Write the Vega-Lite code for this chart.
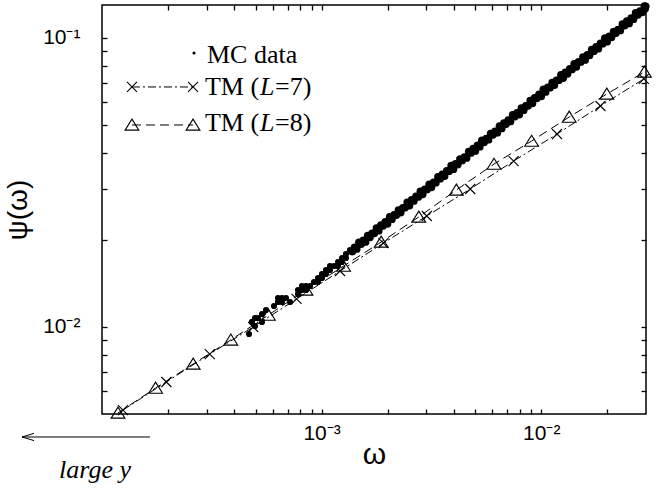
{
"$schema": "https://vega.github.io/schema/vega-lite/v6.json",
"width": 544, "height": 409,
"autosize": "none",
"padding": {"left": 102, "top": 5, "right": 12, "bottom": 75},
"background": "white",
"config": {
  "view": {"stroke": "black", "strokeWidth": 1.5},
  "axis": {"domain": false, "grid": false, "tickColor": "black", "tickWidth": 1.3, "labelFont": "Liberation Sans", "labelFontSize": 21, "labelColor": "black", "titleFont": "Liberation Sans", "titleColor": "black", "titleFontWeight": "normal", "labelOverlap": false, "labelFlush": false, "labelBound": false}
},
"datasets": {
  "mc": [
    {"w":0.0299,"p":0.1285},{"w":0.0297,"p":0.1262},
    {"w":0.02951,"p":0.1288},{"w":0.02818,"p":0.1239},{"w":0.02692,"p":0.1222},{"w":0.0257,"p":0.1172},{"w":0.02455,"p":0.1143},{"w":0.02344,"p":0.1117},{"w":0.02239,"p":0.1069},{"w":0.02138,"p":0.1052},{"w":0.02042,"p":0.1012},{"w":0.0195,"p":0.09977},
    {"w":0.01862,"p":0.09572},{"w":0.01778,"p":0.09311},{"w":0.01698,"p":0.0912},{"w":0.01622,"p":0.0873},{"w":0.01549,"p":0.0859},{"w":0.01479,"p":0.0826},{"w":0.01413,"p":0.08128},{"w":0.01349,"p":0.07816},{"w":0.01288,"p":0.07603},{"w":0.0123,"p":0.07447},
    {"w":0.01175,"p":0.07129},{"w":0.01122,"p":0.06998},{"w":0.01072,"p":0.06745},{"w":0.01023,"p":0.06637},{"w":0.009772,"p":0.06383},{"w":0.009333,"p":0.06209},{"w":0.008913,"p":0.06067},{"w":0.008511,"p":0.05821},{"w":0.008128,"p":0.05715},{"w":0.007762,"p":0.05508},
    {"w":0.007413,"p":0.0542},{"w":0.007079,"p":0.052},{"w":0.006761,"p":0.0507},{"w":0.006457,"p":0.04955},{"w":0.006166,"p":0.04753},{"w":0.005888,"p":0.04667},{"w":0.005623,"p":0.04487},{"w":0.00537,"p":0.04426},{"w":0.005129,"p":0.04246},{"w":0.004898,"p":0.0414},
    {"w":0.004677,"p":0.04046},{"w":0.004467,"p":0.03873},{"w":0.004266,"p":0.03811},{"w":0.004074,"p":0.03664},{"w":0.00389,"p":0.03614},{"w":0.003715,"p":0.03467},{"w":0.003548,"p":0.03373},{"w":0.003388,"p":0.03304},{"w":0.003236,"p":0.03162},{"w":0.00309,"p":0.03112},
    {"w":0.002951,"p":0.02992},{"w":0.002818,"p":0.02944},{"w":0.002692,"p":0.02831},{"w":0.00257,"p":0.02754},{"w":0.002455,"p":0.02698},{"w":0.002344,"p":0.02582},{"w":0.002239,"p":0.02535},{"w":0.002138,"p":0.02443},{"w":0.002042,"p":0.02404},{"w":0.00195,"p":0.02312},
    {"w":0.001862,"p":0.02249},{"w":0.001778,"p":0.02198},{"w":0.001698,"p":0.02109},{"w":0.001622,"p":0.0207},{"w":0.001549,"p":0.01995},{"w":0.001479,"p":0.01963},{"w":0.001413,"p":0.01884},
    {"w":0.02884,"p":0.1227},{"w":0.02754,"p":0.1202},{"w":0.0263,"p":0.1161},{"w":0.02512,"p":0.1122},{"w":0.02399,"p":0.1104},{"w":0.02291,"p":0.1062},{"w":0.02188,"p":0.104},{"w":0.02089,"p":0.1005},{"w":0.01995,"p":0.09705},{"w":0.01905,"p":0.0955},
    {"w":0.0182,"p":0.09183},{"w":0.01738,"p":0.08995},{"w":0.0166,"p":0.0871},{"w":0.01585,"p":0.08395},{"w":0.01514,"p":0.0826},{"w":0.01445,"p":0.07943},{"w":0.0138,"p":0.0778},{"w":0.01318,"p":0.07516},{"w":0.01259,"p":0.07261},{"w":0.01202,"p":0.07145},
    {"w":0.01148,"p":0.06871},{"w":0.01096,"p":0.0673},{"w":0.01047,"p":0.06501},{"w":0.01,"p":0.06281},{"w":0.00955,"p":0.0618},{"w":0.00912,"p":0.05943},{"w":0.00871,"p":0.05821},{"w":0.008318,"p":0.05623},{"w":0.007943,"p":0.05433},{"w":0.007586,"p":0.05346},
    {"w":0.007244,"p":0.0514},{"w":0.006918,"p":0.05035},{"w":0.006607,"p":0.04864},{"w":0.00631,"p":0.04699},{"w":0.006026,"p":0.04624},{"w":0.005754,"p":0.04446},{"w":0.005495,"p":0.04355},{"w":0.005248,"p":0.04207},{"w":0.005012,"p":0.04064},{"w":0.004786,"p":0.03999},
    {"w":0.004571,"p":0.03846},{"w":0.004365,"p":0.03767},{"w":0.004169,"p":0.03648},{"w":0.003981,"p":0.03516},{"w":0.003802,"p":0.03459},{"w":0.003631,"p":0.03327},{"w":0.003467,"p":0.03258},{"w":0.003311,"p":0.03155},{"w":0.003162,"p":0.03041},{"w":0.00302,"p":0.02992},
    {"w":0.002884,"p":0.02877},{"w":0.002754,"p":0.02818},{"w":0.00263,"p":0.02729},{"w":0.002512,"p":0.0263},{"w":0.002399,"p":0.02588},{"w":0.002291,"p":0.02489},{"w":0.002188,"p":0.02438},{"w":0.002089,"p":0.0236},{"w":0.001995,"p":0.02275},{"w":0.001905,"p":0.02239},
    {"w":0.00182,"p":0.02153},{"w":0.001738,"p":0.02109},{"w":0.00166,"p":0.02042},{"w":0.001585,"p":0.01968},{"w":0.001514,"p":0.01936},{"w":0.001445,"p":0.01862},{"w":0.00138,"p":0.01824}
  ],
  "mcs": [
    {"w":0.0004671,"p":0.009458},{"w":0.0004821,"p":0.01041},{"w":0.0004974,"p":0.01074},{"w":0.0004974,"p":0.01008},{"w":0.0005133,"p":0.01074},{"w":0.0005353,"p":0.01109},{"w":0.0005582,"p":0.01145},{"w":0.000607,"p":0.01182},{"w":0.000633,"p":0.0122},{"w":0.00066,"p":0.01259},
    {"w":0.000633,"p":0.01259},{"w":0.00066,"p":0.0122},{"w":0.000688,"p":0.01259},{"w":0.000781,"p":0.013},{"w":0.000814,"p":0.01343},{"w":0.000814,"p":0.01386},{"w":0.000849,"p":0.01343},{"w":0.000849,"p":0.01386},{"w":0.000886,"p":0.01386},{"w":0.000781,"p":0.01343},
    {"w":0.000923,"p":0.01431},{"w":0.000963,"p":0.01477},{"w":0.001004,"p":0.01525},{"w":0.001004,"p":0.01477},{"w":0.001047,"p":0.01575},{"w":0.001092,"p":0.01575},{"w":0.001047,"p":0.01525},{"w":0.001092,"p":0.01626},{"w":0.001139,"p":0.01626},{"w":0.001188,"p":0.01678},
    {"w":0.001239,"p":0.01732},{"w":0.001239,"p":0.01678},{"w":0.001291,"p":0.01788},{"w":0.001347,"p":0.01846},{"w":0.001291,"p":0.01732},{"w":0.001405,"p":0.01846},{"w":0.001188,"p":0.01626},{"w":0.000718,"p":0.0122},{"w":0.000963,"p":0.01431},{"w":0.0005353,"p":0.01041}
  ],
  "l8": [
    {"w":0.0001183,"p":0.00504},{"w":0.0001754,"p":0.00615},{"w":0.0002602,"p":0.007447},{"w":0.000386,"p":0.00902},{"w":0.0005724,"p":0.011},{"w":0.000849,"p":0.01343},{"w":0.001259,"p":0.01625},{"w":0.001868,"p":0.01968},
    {"w":0.002771,"p":0.02402},{"w":0.00411,"p":0.02979},{"w":0.006096,"p":0.03662},{"w":0.00904,"p":0.04399},{"w":0.01341,"p":0.05326},{"w":0.01989,"p":0.06398},{"w":0.0295,"p":0.07625}
  ],
  "l7": [
    {"w":0.0001246,"p":0.005161},{"w":0.0001964,"p":0.006452},{"w":0.0003096,"p":0.00806},{"w":0.0004881,"p":0.01},{"w":0.0007693,"p":0.0125},{"w":0.001213,"p":0.01562},{"w":0.001912,"p":0.01952},
    {"w":0.003013,"p":0.02421},{"w":0.00475,"p":0.03002},{"w":0.007487,"p":0.03751},{"w":0.0118,"p":0.04652},{"w":0.01861,"p":0.05815},{"w":0.02932,"p":0.07211}
  ],
  "mcl": [{"w":0.0002624,"p":0.08871}],
  "leg7": [{"w":0.0001369,"p":0.06766},{"w":0.0002597,"p":0.06766}],
  "leg8": [{"w":0.0001369,"p":0.04998},{"w":0.0002597,"p":0.04998}],
  "txt": [
    {"w":0.0003006,"p":0.0819,"t":"MC data"},
    {"w":0.0002944,"p":0.06348,"t":"TM ("},{"w":0.0006135,"p":0.06348,"t":"=7)"},
    {"w":0.0002944,"p":0.04765,"t":"TM ("},{"w":0.0006135,"p":0.04765,"t":"=8)"}
  ],
  "txti": [{"w":0.0005243,"p":0.06348,"t":"L"},{"w":0.0005243,"p":0.04765,"t":"L"}],
  "ann": [{"w":0.00009292,"p":0.003003,"t":"large y"}],
  "arr": [{"w":0.00004322,"p":0.004163},{"w":0.0001654,"p":0.004163}],
  "arrh": [{"w":0.00004603,"p":0.004163}]
},
"encoding": {
  "x": {"field": "w", "type": "quantitative", "scale": {"type": "log", "domain": [0.0001, 0.03], "nice": false}, "axis": null},
  "y": {"field": "p", "type": "quantitative", "scale": {"type": "log", "domain": [0.005, 0.13], "nice": false}, "axis": null}
},
"layer": [
  {
    "data": {"name": "mcl"},
    "mark": {"type": "point", "opacity": 0},
    "encoding": {
      "x": {"field": "w", "type": "quantitative", "scale": {"type": "log", "domain": [0.0001, 0.03], "nice": false},
        "axis": {"orient": "bottom", "values": [0.0002,0.0003,0.0004,0.0005,0.0006,0.0007,0.0008,0.0009,0.001,0.002,0.003,0.004,0.005,0.006,0.007,0.008,0.009,0.01,0.02],
          "tickSize": -5,
          "labelExpr": "datum.value == 0.001 ? '10⁻³' : datum.value == 0.01 ? '10⁻²' : ''",
          "labelPadding": 13, "title": "ω", "titleFontSize": 30, "titlePadding": -4}},
      "y": {"field": "p", "type": "quantitative", "scale": {"type": "log", "domain": [0.005, 0.13], "nice": false},
        "axis": {"orient": "left", "values": [0.006,0.007,0.008,0.009,0.01,0.02,0.03,0.04,0.05,0.06,0.07,0.08,0.09,0.1],
          "tickSize": -5,
          "labelExpr": "datum.value == 0.01 ? '10⁻²' : datum.value == 0.1 ? '10⁻¹' : ''",
          "labelPadding": 27, "title": "ψ(ω)", "titleFontSize": 28, "titlePadding": 10}}
    }
  },
  {
    "data": {"name": "mcl"},
    "mark": {"type": "point", "opacity": 0},
    "encoding": {
      "x": {"field": "w", "type": "quantitative", "scale": {"type": "log", "domain": [0.0001, 0.03], "nice": false},
        "axis": {"orient": "top", "values": [0.0002,0.0003,0.0004,0.0005,0.0006,0.0007,0.0008,0.0009,0.001,0.002,0.003,0.004,0.005,0.006,0.007,0.008,0.009,0.01,0.02],
          "labels": false, "title": null, "tickSize": -5}},
      "y": {"field": "p", "type": "quantitative", "scale": {"type": "log", "domain": [0.005, 0.13], "nice": false},
        "axis": {"orient": "right", "values": [0.006,0.007,0.008,0.009,0.01,0.02,0.03,0.04,0.05,0.06,0.07,0.08,0.09,0.1],
          "labels": false, "title": null, "tickSize": -5}}
    }
  },
  {"data": {"name": "l8"}, "mark": {"type": "line", "stroke": "black", "strokeWidth": 1, "strokeDash": [9, 5]}},
  {"data": {"name": "l7"}, "mark": {"type": "line", "stroke": "black", "strokeWidth": 1, "strokeDash": [8, 3, 2, 3]}},
  {"data": {"name": "l8"}, "mark": {"type": "point", "shape": "M0,-0.85L1,0.75L-1,0.75Z", "size": 190, "filled": false, "stroke": "black", "strokeWidth": 1.1, "opacity": 1}},
  {"data": {"name": "l7"}, "mark": {"type": "point", "shape": "M-1,-1L1,1M-1,1L1,-1", "size": 100, "filled": false, "stroke": "black", "strokeWidth": 1.1, "opacity": 1}},
  {"data": {"name": "mc"}, "mark": {"type": "circle", "size": 60, "color": "black", "opacity": 1}},
  {"data": {"name": "mcs"}, "mark": {"type": "circle", "size": 38, "color": "black", "opacity": 1}},
  {"data": {"name": "mcl"}, "mark": {"type": "circle", "size": 10, "color": "black", "opacity": 1}},
  {"data": {"name": "leg7"}, "mark": {"type": "line", "stroke": "black", "strokeWidth": 1, "strokeDash": [8, 3, 2, 3]}},
  {"data": {"name": "leg7"}, "mark": {"type": "point", "shape": "M-1,-1L1,1M-1,1L1,-1", "size": 100, "filled": false, "stroke": "black", "strokeWidth": 1.1, "opacity": 1}},
  {"data": {"name": "leg8"}, "mark": {"type": "line", "stroke": "black", "strokeWidth": 1, "strokeDash": [9, 5]}},
  {"data": {"name": "leg8"}, "mark": {"type": "point", "shape": "M0,-0.85L1,0.75L-1,0.75Z", "size": 190, "filled": false, "stroke": "black", "strokeWidth": 1.1, "opacity": 1}},
  {"data": {"name": "txt"}, "mark": {"type": "text", "align": "left", "baseline": "alphabetic", "font": "Liberation Serif", "fontSize": 26, "color": "black"}, "encoding": {"text": {"field": "t"}}},
  {"data": {"name": "txti"}, "mark": {"type": "text", "align": "left", "baseline": "alphabetic", "font": "Liberation Serif", "fontStyle": "italic", "fontSize": 26, "color": "black"}, "encoding": {"text": {"field": "t"}}},
  {"data": {"name": "ann"}, "mark": {"type": "text", "align": "center", "baseline": "alphabetic", "font": "Liberation Serif", "fontStyle": "italic", "fontSize": 26, "color": "black"}, "encoding": {"text": {"field": "t"}}},
  {"data": {"name": "arr"}, "mark": {"type": "line", "stroke": "black", "strokeWidth": 1}},
  {"data": {"name": "arrh"}, "mark": {"type": "point", "shape": "M1,-0.6L-1,0L1,0.6", "size": 144, "filled": false, "stroke": "black", "strokeWidth": 1, "opacity": 1}}
],
"resolve": {"axis": {"x": "independent", "y": "independent"}}
}
